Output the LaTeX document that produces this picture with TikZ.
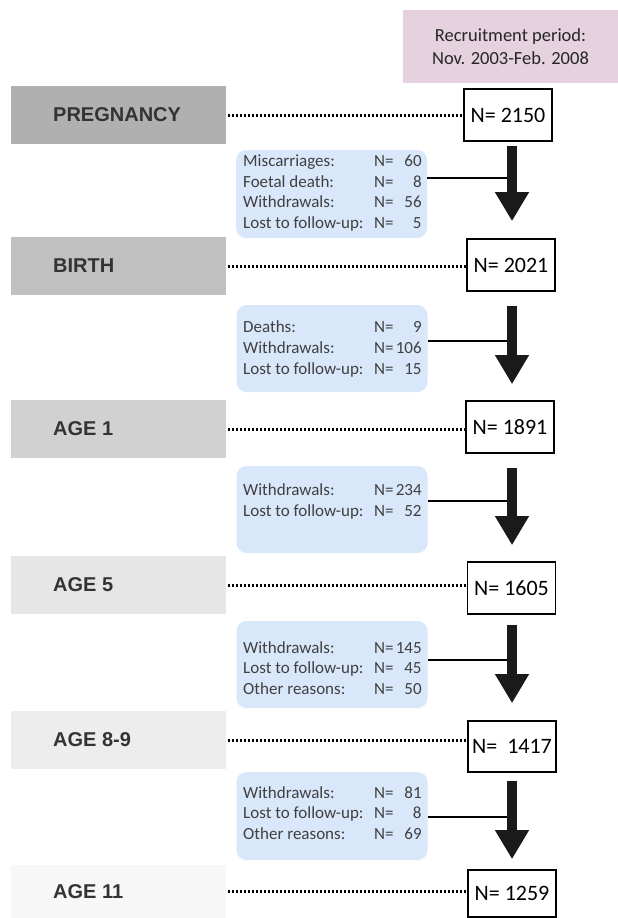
\documentclass[tikz,border=0pt]{standalone}
\usepackage{fontspec}
\setmainfont{Carlito}
\newfontfamily\arialf{Liberation Sans}
\usetikzlibrary{arrows.meta}
\definecolor{pinkbg}{RGB}{230,209,222}
\definecolor{bluebg}{RGB}{217,231,250}
\definecolor{gA}{RGB}{176,176,176}
\definecolor{gB}{RGB}{192,192,192}
\definecolor{gC}{RGB}{209,209,209}
\definecolor{gD}{RGB}{230,230,230}
\definecolor{gE}{RGB}{237,237,237}
\definecolor{gF}{RGB}{247,247,247}
\definecolor{labtxt}{RGB}{51,51,51}
\definecolor{exctxt}{RGB}{64,64,64}
\definecolor{arrowc}{RGB}{26,26,26}
\newcommand\drow[2]{\makebox[131pt][l]{#1}N=\makebox[28pt][r]{#2}}
\tikzset{
  stagebox/.style={minimum width=215pt, inner sep=0pt, draw=none},
  stagetext/.style={anchor=west, inner sep=0pt, text=labtxt, font=\arialf\bfseries\fontsize{20}{24}\selectfont},
  nbox/.style={draw=black, line width=1.6pt, fill=white, minimum width=88pt, inner sep=0pt, font=\fontsize{22}{26}\selectfont},
  excbox/.style={fill=bluebg, rounded corners=10pt, minimum width=191pt, inner sep=0pt, draw=none},
  exctext/.style={anchor=west, inner sep=0pt, align=left, text=exctxt, font=\fontsize{17}{20.7}\selectfont},
  dotline/.style={line width=3pt, black, dash pattern=on 2.2pt off 1.8pt, shorten <=2pt},
  hline/.style={line width=2.6pt, black},
  bigarrow/.style={line width=10pt, arrowc, -{Triangle[width=32pt,length=29pt]}},
}
\begin{document}
\begin{tikzpicture}[x=1pt,y=-1pt]
\useasboundingbox (0,0) rectangle (618,918);
% recruitment box
\node[fill=pinkbg, minimum width=215pt, minimum height=73pt, inner sep=0pt, align=center,
      text=black!85, font=\fontsize{18.5}{22.6}\selectfont] (rec) at (510.5,46.5)
      {Recruitment period:\\Nov. 2003-Feb. 2008};
% stage boxes
\node[stagebox, fill=gA, minimum height=58pt] (s1) at (118.5,115) {};
\node[stagebox, fill=gB, minimum height=58pt] (s2) at (118.5,266) {};
\node[stagebox, fill=gC, minimum height=58pt] (s3) at (118.5,429) {};
\node[stagebox, fill=gD, minimum height=58pt] (s4) at (118.5,585) {};
\node[stagebox, fill=gE, minimum height=58pt] (s5) at (118.5,740) {};
\node[stagebox, fill=gF, minimum height=53pt] (s6) at (118.5,891.5) {};
\node[stagetext] (l1) at (53,115) {PREGNANCY};
\node[stagetext] (l2) at (53,266) {BIRTH};
\node[stagetext] (l3) at (53,429) {AGE 1};
\node[stagetext] (l4) at (53,585) {AGE 5};
\node[stagetext] (l5) at (53,740) {AGE 8-9};
\node[stagetext] (l6) at (53,891.5) {AGE 11};
% N boxes
\node[nbox, minimum height=52pt] (n1) at (508,115) {N= 2150};
\node[nbox, minimum height=52pt] (n2) at (511,265) {N= 2021};
\node[nbox, minimum height=52pt] (n3) at (510,427) {N= 1891};
\node[nbox, minimum height=52pt] (n4) at (511.5,588) {N= 1605};
\node[nbox, minimum height=51pt] (n5) at (512,746.5) {N=\ \ 1417};
\node[nbox, minimum height=47pt] (n6) at (512,893.5) {N= 1259};
% dotted links
\draw[dotline] (s1.east) -- (s1.east -| n1.west);
\draw[dotline] (s2.east) -- (s2.east -| n2.west);
\draw[dotline] (s3.east) -- (s3.east -| n3.west);
\draw[dotline] (s4.east) -- (s4.east -| n4.west);
\draw[dotline] (s5.east) -- (s5.east -| n5.west);
\draw[dotline] (s6.east) -- (s6.east -| n6.west);
% exclusion boxes
\node[excbox, minimum height=88pt] (b1) at (331.5,194) {};
\node[excbox, minimum height=87pt] (b2) at (332,348.5) {};
\node[excbox, minimum height=87pt] (b3) at (332,509.5) {};
\node[excbox, minimum height=87pt] (b4) at (332,664.5) {};
\node[excbox, minimum height=88pt] (b5) at (332,816) {};
\node[exctext] (t1) at (243,193) {\drow{Miscarriages:}{60}\\\drow{Foetal death:}{8}\\\drow{Withdrawals:}{56}\\\drow{Lost to follow-up:}{5}};
\node[exctext] (t2) at (243,349) {\drow{Deaths:}{9}\\\drow{Withdrawals:}{106}\\\drow{Lost to follow-up:}{15}};
\node[exctext] (t3) at (243,501.5) {\drow{Withdrawals:}{234}\\\drow{Lost to follow-up:}{52}};
\node[exctext] (t4) at (243,668) {\drow{Withdrawals:}{145}\\\drow{Lost to follow-up:}{45}\\\drow{Other reasons:}{50}};
\node[exctext] (t5) at (243,813) {\drow{Withdrawals:}{81}\\\drow{Lost to follow-up:}{8}\\\drow{Other reasons:}{69}};
% shaft axis and branch points
\coordinate (ax) at (512,0);
\coordinate (h1) at (512,178);
\coordinate (h2) at (512,341);
\coordinate (h3) at (512,501);
\coordinate (h4) at (512,660);
\coordinate (h5) at (512,817);
\draw[hline] (b1.east |- h1) -- (h1);
\draw[hline] (b2.east |- h2) -- (h2);
\draw[hline] (b3.east |- h3) -- (h3);
\draw[hline] (b4.east |- h4) -- (h4);
\draw[hline] (b5.east |- h5) -- (h5);
% big arrows
\draw[bigarrow, shorten <=4pt, shorten >=17pt] (n1.south -| ax) -- (n2.north -| ax);
\draw[bigarrow, shorten <=14pt, shorten >=16pt] (n2.south -| ax) -- (n3.north -| ax);
\draw[bigarrow, shorten <=14pt, shorten >=16pt] (n3.south -| ax) -- (n4.north -| ax);
\draw[bigarrow, shorten <=10pt, shorten >=17pt] (n4.south -| ax) -- (n5.north -| ax);
\draw[bigarrow, shorten <=8pt, shorten >=10pt] (n5.south -| ax) -- (n6.north -| ax);
\end{tikzpicture}
\end{document}
